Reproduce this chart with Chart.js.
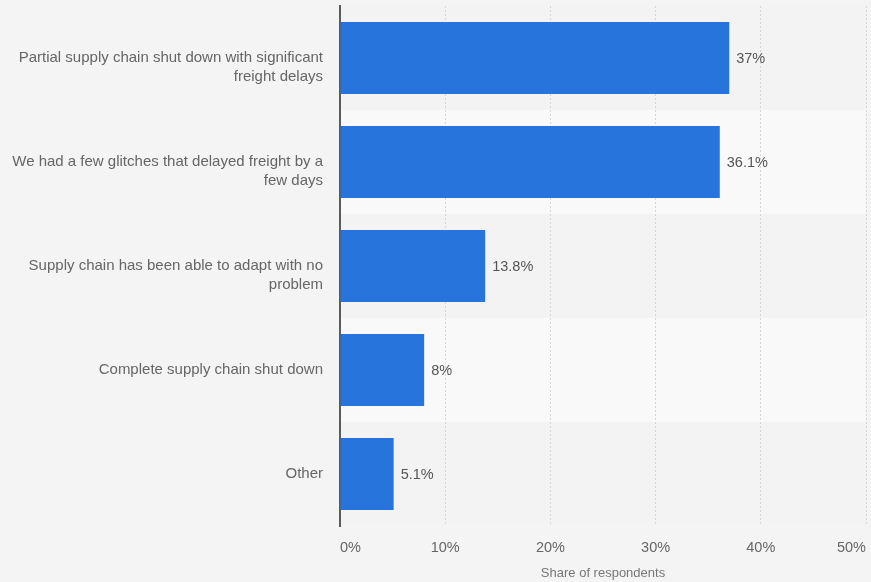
<!DOCTYPE html>
<html>
<head>
<meta charset="utf-8">
<script src="https://cdn.jsdelivr.net/npm/chart.js@4"></script>
<style>
  html, body { margin: 0; padding: 0; background: #f4f4f4; }
  #wrap { width: 871px; height: 582px; }
</style>
</head>
<body>
<div id="wrap"><canvas id="chartImpact"></canvas></div>
<script>
const categories = [
    ['Partial supply chain shut down with significant', 'freight delays'],
    ['We had a few glitches that delayed freight by a', 'few days'],
    ['Supply chain has been able to adapt with no', 'problem'],
    'Complete supply chain shut down',
    'Other'
];
const shares = [37, 36.1, 13.8, 8, 5.1];
const valueLabels = ['37%', '36.1%', '13.8%', '8%', '5.1%'];

const FONT = "'Liberation Sans', Arial, sans-serif";
const LABEL_LINE = 19;

// alternating row bands behind the bars
const bands = {
    id: 'bands',
    beforeDraw(chart) {
        const ctx = chart.ctx, area = chart.chartArea, y = chart.scales.y;
        ctx.save();
        ctx.fillStyle = '#f4f4f4';
        ctx.fillRect(0, 0, chart.width, chart.height);
        const step = (area.bottom - area.top) / categories.length;
        categories.forEach((c, i) => {
            const mid = y.getPixelForValue(i);
            ctx.fillStyle = i % 2 ? '#f9f9f9' : '#f3f3f3';
            ctx.fillRect(area.left, mid - step / 2, area.right - area.left, step);
        });
        ctx.restore();
    }
};

// value text to the right of each bar
const barValues = {
    id: 'barValues',
    afterDatasetsDraw(chart) {
        const ctx = chart.ctx;
        ctx.save();
        ctx.font = '14.5px ' + FONT;
        ctx.fillStyle = '#555555';
        ctx.textBaseline = 'middle';
        ctx.textAlign = 'left';
        chart.getDatasetMeta(0).data.forEach((bar, i) => {
            ctx.fillText(valueLabels[i], bar.x + 7, bar.y + 1);
        });
        ctx.restore();
    }
};

new Chart(document.getElementById('chartImpact'), {
    type: 'bar',
    data: {
        labels: categories,
        datasets: [{
            label: 'Share of respondents',
            data: shares,
            backgroundColor: '#2775dc',
            categoryPercentage: 1,
            barPercentage: 0.69
        }]
    },
    options: {
        indexAxis: 'y',
        responsive: true,
        maintainAspectRatio: false,
        animation: false,
        layout: { padding: { top: 6, right: 5, left: 0, bottom: 0 } },
        plugins: {
            legend: { display: false },
            tooltip: { enabled: false }
        },
        scales: {
            x: {
                min: 0,
                max: 50,
                ticks: {
                    stepSize: 10,
                    align: 'inner',
                    padding: 13,
                    color: '#666666',
                    font: { family: FONT, size: 14.5 },
                    callback: v => v + '%'
                },
                grid: { color: '#d6d6d6', drawTicks: false },
                border: { display: false, dash: [2, 2] },
                title: {
                    display: true,
                    text: 'Share of respondents',
                    color: '#777777',
                    font: { family: FONT, size: 13 },
                    padding: { top: 0, bottom: 1 }
                },
                afterFit(scale) {
                    scale.height = 56;
                    scale.paddingLeft = 0;
                    scale.paddingRight = 0;
                }
            },
            y: {
                ticks: {
                    padding: 17,
                    labelOffset: LABEL_LINE / 2,
                    color: '#666666',
                    font: { family: FONT, size: 15, lineHeight: LABEL_LINE / 15 },
                    // first line sits on the bar centre, so pad single lines to two
                    callback: (v, i) => Array.isArray(categories[i]) ? categories[i] : [categories[i], '']
                },
                grid: { display: false, drawTicks: false },
                border: { display: true, color: '#5b5b5b', width: 2 },
                afterFit(scale) {
                    scale.width = 340;
                    scale.paddingTop = 0;
                    scale.paddingBottom = 0;
                }
            }
        }
    },
    plugins: [bands, barValues]
});
</script>
</body>
</html>
